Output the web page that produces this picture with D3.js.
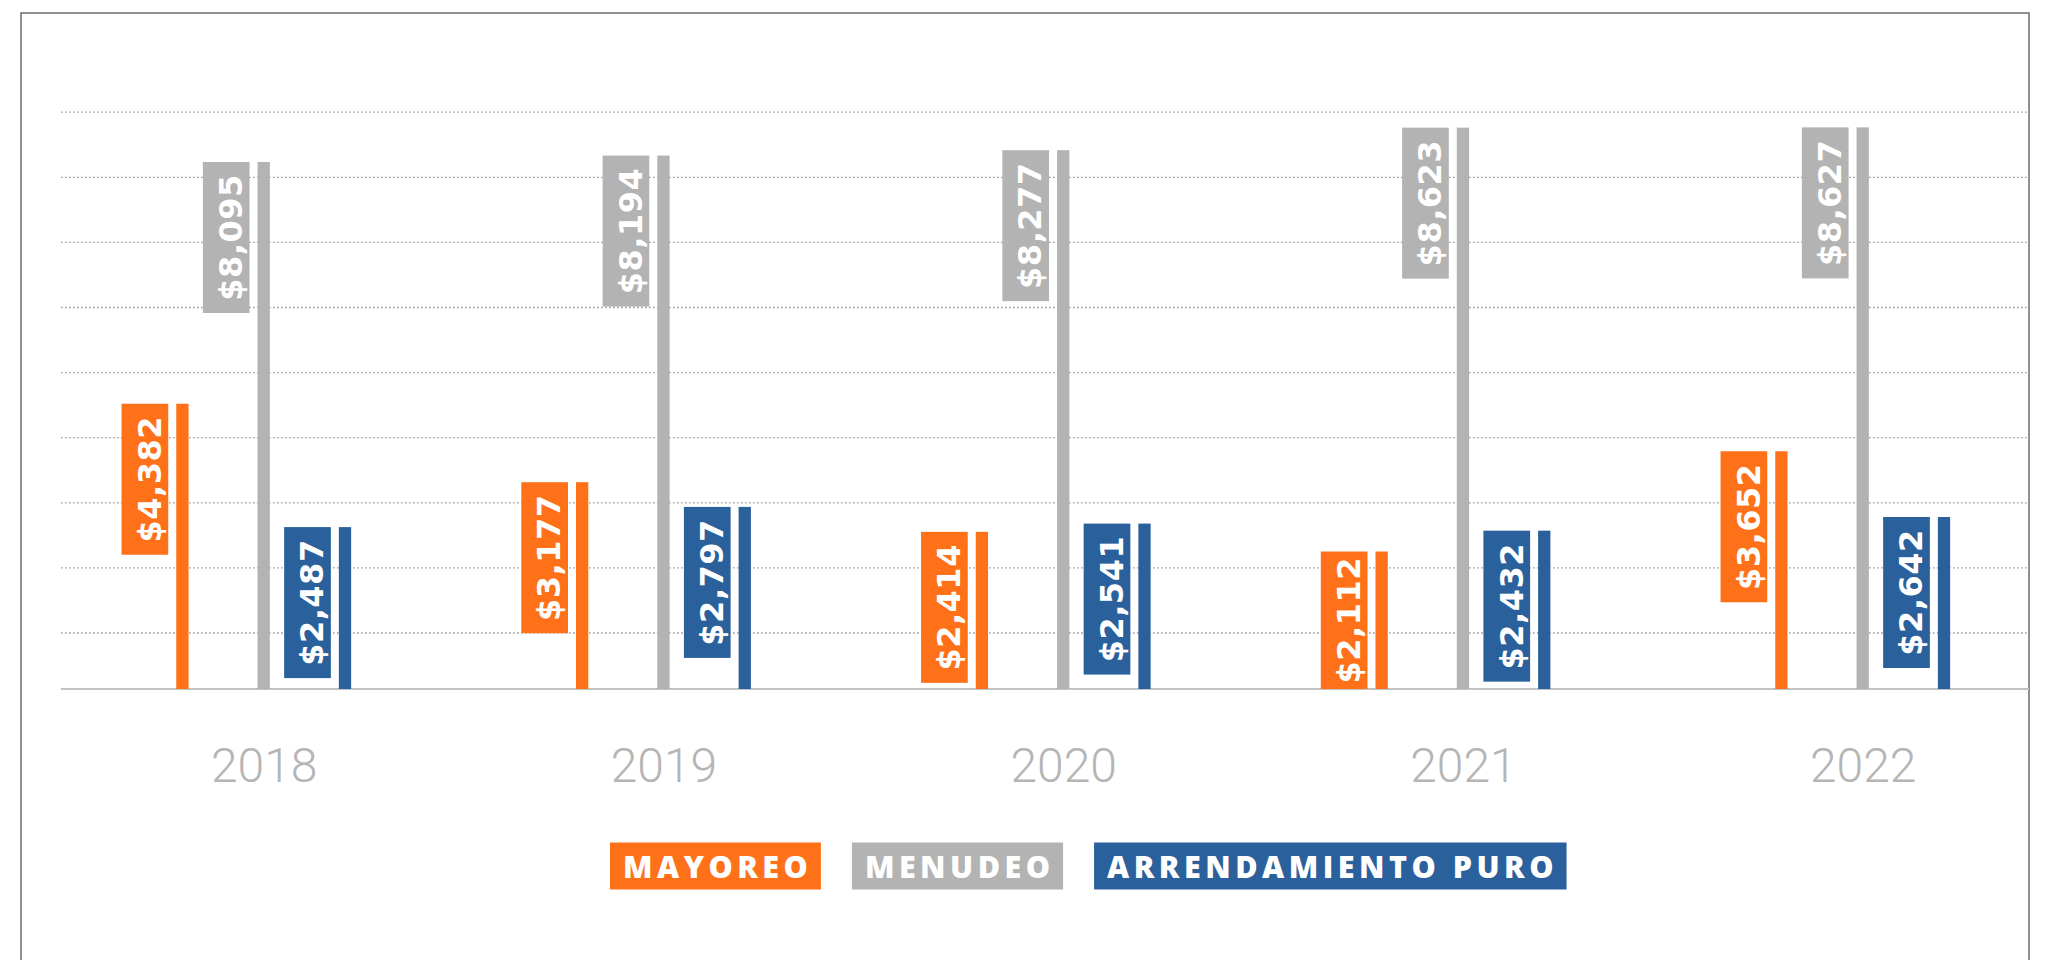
<!DOCTYPE html>
<html>
<head>
<meta charset="utf-8">
<script src="https://cdn.jsdelivr.net/npm/d3@7"></script>
<style>
  body { margin: 0; background: #fff; }
  svg { display: block; }
</style>
</head>
<body>
<svg id="chart"></svg>
<script>
// data
var years = ['2018', '2019', '2020', '2021', '2022'];
var seriesNames = ['MAYOREO', 'MENUDEO', 'ARRENDAMIENTO PURO'];
var mayoreo = [4382, 3177, 2414, 2112, 3652];
var menudeo = [8095, 8194, 8277, 8623, 8627];
var arrendamiento = [2487, 2797, 2541, 2432, 2642];
var seriesColors = ['#FF7119', '#B3B3B3', '#2A609C'];

var W = 2045, H = 960;
var svg = d3.select('#chart').attr('width', W).attr('height', H);

var values = [mayoreo, menudeo, arrendamiento];
var rows = [];
years.forEach(function(yr, i) {
    seriesNames.forEach(function(s, j) {
        rows.push({year: yr, series: s, value: values[j][i], color: seriesColors[j]});
    });
});

var x = d3.scalePoint().domain(years).range([263.7, 1862.7]);
var xs = d3.scalePoint().domain(seriesNames).range([-81.3, 81.3]);
var y = d3.scaleLinear().domain([0, 10000]).range([689, 38]);
var barW = 12.3, gap = 8, boxW = 46.7, boxH = 151;

// frame
svg.append('rect').attr('x', 21).attr('y', 13).attr('width', 2008).attr('height', 1000)
    .attr('fill', 'none').attr('stroke', '#6b6b6b').attr('stroke-width', 1.5);

// dotted gridlines
var gridValues = d3.range(860, 9000, 1000);
svg.append('g').selectAll('line').data(gridValues).enter().append('line')
    .attr('x1', 61).attr('x2', 2029)
    .attr('y1', function(d) { return y(d); }).attr('y2', function(d) { return y(d); })
    .attr('stroke', '#9a9a9a').attr('stroke-width', 1.3).attr('stroke-dasharray', '1.6,2.4');

// baseline
svg.append('line').attr('x1', 61).attr('x2', 2029).attr('y1', y(0)).attr('y2', y(0))
    .attr('stroke', '#c2c2c2').attr('stroke-width', 2);

// bars + labels
var g = svg.append('g').selectAll('g').data(rows).enter().append('g');
var barLeft = function(d) { return x(d.year) + xs(d.series) - barW / 2; };
// label box never drops below the baseline
var boxHeight = function(d) { return Math.min(boxH, y(0) - y(d.value)); };
g.append('rect')
    .attr('x', barLeft).attr('y', function(d) { return y(d.value); })
    .attr('width', barW).attr('height', function(d) { return y(0) - y(d.value); })
    .attr('fill', function(d) { return d.color; });
g.append('rect')
    .attr('x', function(d) { return barLeft(d) - gap - boxW; })
    .attr('y', function(d) { return y(d.value); })
    .attr('width', boxW).attr('height', boxHeight)
    .attr('fill', function(d) { return d.color; });
g.append('text')
    .attr('transform', function(d) {
        return 'translate(' + (barLeft(d) - gap - 7.6) + ',' + (y(d.value) + boxHeight(d) / 2) + ') rotate(-90)';
    })
    .attr('text-anchor', 'middle')
    .style('font-family', '"DejaVu Sans", sans-serif').style('font-weight', 'bold')
    .style('font-size', '32px').style('letter-spacing', '0.5px')
    .attr('fill', '#fff')
    .text(function(d) { return '$' + d3.format(',')(d.value); });

// year axis
var axis = svg.append('g').attr('transform', 'translate(0,' + y(0) + ')')
    .call(d3.axisBottom(x).tickSize(0).tickPadding(93));
axis.select('.domain').remove();
axis.selectAll('text')
    .style('font-family', 'Roboto, sans-serif').style('font-weight', 300)
    .style('font-size', '48px').attr('fill', '#b5b5b5').attr('dy', 0);

// legend
var lg = svg.append('g');
var lx = 610, pad = 13, ls = 4.5;
seriesNames.forEach(function(s, j) {
    var item = lg.append('g');
    var t = item.append('text')
        .attr('y', 877.5)
        .style('font-family', '"Open Sans", sans-serif').style('font-weight', 800)
        .style('font-size', '30.5px').style('letter-spacing', ls + 'px')
        .attr('fill', '#fff')
        .text(s);
    var tw = t.node().getComputedTextLength() - ls;
    item.insert('rect', 'text')
        .attr('x', lx).attr('y', 842.5).attr('width', tw + pad * 2).attr('height', 47)
        .attr('fill', seriesColors[j]);
    t.attr('x', lx + pad);
    lx += tw + pad * 2 + 31;
});
</script>
</body>
</html>
